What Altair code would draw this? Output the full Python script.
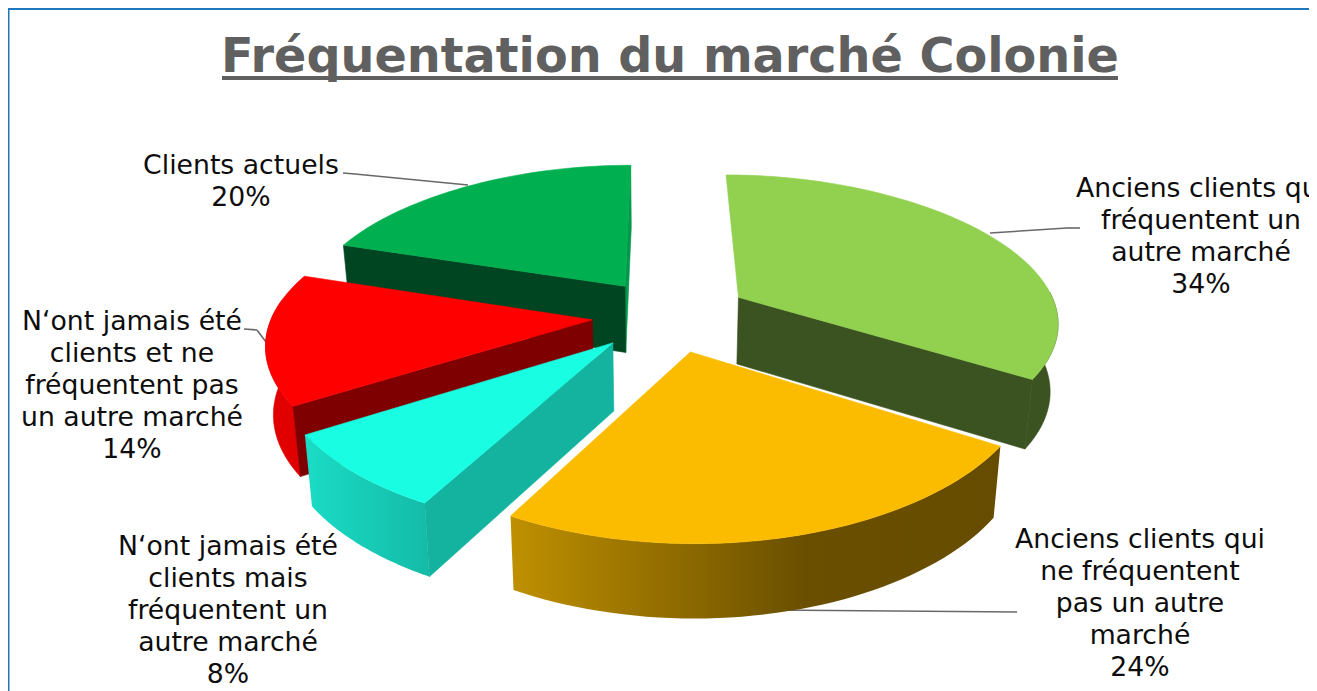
import math
import altair as alt

TITLE = "Fréquentation du marché Colonie"
CATEGORIES = [
    "Anciens clients qui\nfréquentent un\nautre marché",
    "Anciens clients qui\nne fréquentent\npas un autre\nmarché",
    "N‘ont jamais été\nclients mais\nfréquentent un\nautre marché",
    "N‘ont jamais été\nclients et ne\nfréquentent pas\nun autre marché",
    "Clients actuels",
]
VALUES = [34, 24, 8, 14, 20]

# --- layout of the 3-D projection (page pixels) ---
W, H = 1301, 683
OX, OY = 8, 8
CX, CY, K, D, DEPTH = 660, 310, 0.4417, 2136, 67
RADII = [328, 333, 332, 328, 332]
EXPLODE = [(82, -29), (30, 91), (-47, 72), (-69, 22), (-37, -55)]
LABEL_POS = [(1201, 197), (1140, 548), (228, 555), (132, 330), (241, 174)]
LEADERS = [
    [(990, 233), (1067, 228), (1080, 228)],
    [(770, 610), (1017, 612)],
    [],
    [(244, 329), (257, 330), (266, 342)],
    [(343, 173), (355, 174), (468, 185)],
]


def top(X, Y):
    s = D / (D - Y)
    sx = 0.97 + 0.00046 * Y
    return (CX + X * sx, CY + K * Y * s)


def bottom(X, Y):
    s = D / (D - Y)
    x, y = top(X, Y)
    return (CX + (x - CX) * 0.98, y + DEPTH * s ** 0.5)


def rim(i, a):
    r = math.radians(a)
    return EXPLODE[i][0] + RADII[i] * math.sin(r), EXPLODE[i][1] - RADII[i] * math.cos(r)


def arc_pts(i, a0, a1, fn):
    n = 48
    return [fn(*rim(i, a0 + (a1 - a0) * j / n)) for j in range(n + 1)]


def shape(pts, fill):
    ring = [[round(x - OX, 2), round(y - OY, 2)] for x, y in pts]
    ring.append(ring[0])
    feat = {"type": "Feature", "properties": {}, "geometry": {"type": "Polygon", "coordinates": [ring]}}
    solid = isinstance(fill, str)
    return (
        alt.Chart(alt.Data(values=[feat]))
        .mark_geoshape(fill=fill, stroke=fill if solid else "transparent", strokeWidth=0.6 if solid else 0)
        .project(type="identity", scale=1, translate=[0, 0])
    )


def grad(stops):
    return alt.Gradient(
        gradient="linear", x1=0, x2=1, y1=0, y2=0,
        stops=[alt.GradientStop(color=c, offset=o) for c, o in stops],
    )


cum = [0]
for v in VALUES:
    cum.append(cum[-1] + v)
ANG = [c * 3.6 for c in cum]


def outer(i, a0, a1, fill):
    return shape(arc_pts(i, a0, a1, top) + arc_pts(i, a1, a0, bottom), fill)


def radial(i, a, fill):
    t = EXPLODE[i]
    e = rim(i, a)
    return shape([top(*t), top(*e), bottom(*e), bottom(*t)], fill)


def face(i, fill):
    return shape([top(*EXPLODE[i])] + arc_pts(i, ANG[i], ANG[i + 1], top), fill)


layers = []
FRAME = "#1F77BD"
ONE = alt.Data(values=[{"a": 1}])
layers.append(alt.Chart(ONE).mark_rule(color=FRAME, strokeWidth=2).encode(
    x=alt.value(0.5), x2=alt.value(0.5), y=alt.value(0), y2=alt.value(H)))
layers.append(alt.Chart(ONE).mark_rule(color=FRAME, strokeWidth=2).encode(
    x=alt.value(0), x2=alt.value(W), y=alt.value(1), y2=alt.value(1)))

for seg in LEADERS:
    for (x0, y0), (x1, y1) in zip(seg, seg[1:]):
        layers.append(alt.Chart(ONE).mark_rule(color="#686868", strokeWidth=1.6).encode(
            x=alt.value(x0 - OX), x2=alt.value(x1 - OX), y=alt.value(y0 - OY), y2=alt.value(y1 - OY)))

# dark green slice
layers += [radial(4, ANG[5], "#00984A"), radial(4, ANG[4], "#004521"), face(4, "#00B050")]
# red slice
layers += [outer(3, ANG[3], 278, "#E00000"), radial(3, ANG[3], "#7F0000"), face(3, "#FF0000")]
# cyan slice
layers += [outer(2, ANG[2], ANG[3], grad([("#1ADCC6", 0), ("#14BBA7", 1)])), radial(2, ANG[2], "#14B3A0"), face(2, "#19FDE2")]
# light green slice
layers += [outer(0, 88, ANG[1], "#3B5320"), radial(0, ANG[1], "#3B5320"), face(0, "#92D050")]
# orange slice
layers += [outer(1, ANG[1], ANG[2], grad([("#BF9000", 0), ("#6A4F00", 0.6), ("#664C00", 1)])), face(1, "#FBBC00")]

# title
layers.append(alt.Chart(alt.Data(values=[{"t": TITLE}])).mark_text(
    font="DejaVu Sans", fontWeight="bold", fontSize=47.7, color="#606060", align="center", baseline="alphabetic"
).encode(text="t:N", x=alt.value(670 - OX), y=alt.value(72 - OY)))
layers.append(alt.Chart(ONE).mark_rule(color="#606060", strokeWidth=4).encode(
    x=alt.value(222 - OX), x2=alt.value(1118 - OX), y=alt.value(78 - OY), y2=alt.value(78 - OY)))

# labels
for cat, v, (x, y) in zip(CATEGORIES, VALUES, LABEL_POS):
    layers.append(alt.Chart(alt.Data(values=[{"t": f"{cat}\n{v}%"}])).mark_text(
        font="DejaVu Sans", fontSize=26.7, color="#0D0D0D", align="center", baseline="alphabetic",
        lineBreak="\n", lineHeight=32
    ).encode(text="t:N", x=alt.value(x - OX), y=alt.value(y - OY)))

chart = alt.layer(*layers).properties(
    width=W, height=H, padding=0, autosize=alt.AutoSizeParams(type="none"), background="white"
).configure_view(stroke=None)

chart.save("out.html", embed_options={"renderer": "svg", "actions": False})
